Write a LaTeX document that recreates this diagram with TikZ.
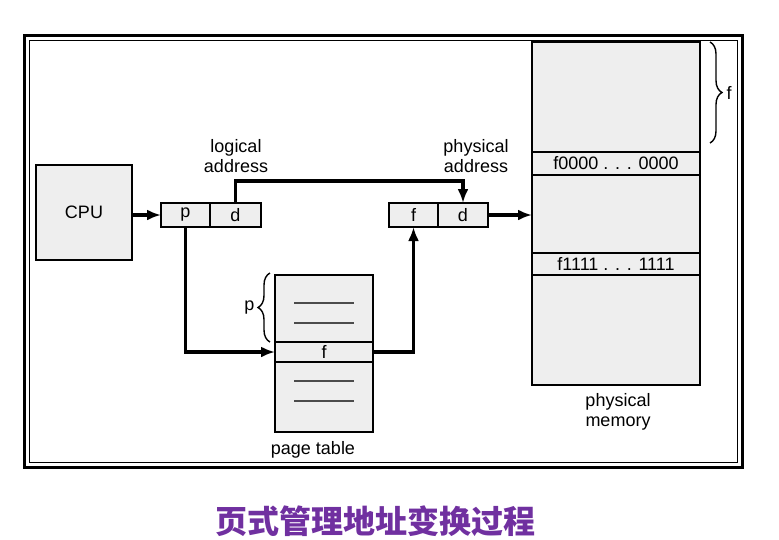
\documentclass[tikz,border=0pt]{standalone}
\usepackage{fontspec}
\setmainfont{Liberation Sans}
\newfontfamily\cjk{Noto Sans CJK SC}
\usetikzlibrary{arrows.meta, positioning, calc, decorations.pathreplacing}
\definecolor{boxgray}{RGB}{238, 238, 238}
\definecolor{titlepurple}{RGB}{112, 48, 160}
\tikzset{
  cell/.style={draw, line width=1.5pt, fill=boxgray, inner sep=0pt, outer sep=0pt, font=\fontsize{18}{20}\selectfont},
  label/.style={align=center, inner sep=0pt, font=\fontsize{18}{20}\selectfont},
  flow/.style={line width=3.2pt, -{Latex[length=14pt, width=11pt]}},
  entry/.style={line width=1.6pt, black!70},
  bracket/.style={line width=1.4pt, decorate, decoration={brace, amplitude=12pt}}
}

\begin{document}
\begin{tikzpicture}[x=1pt, y=-1pt]
  \useasboundingbox (0,0) rectangle (779,539);
  \draw[line width=3pt] (24,35) rectangle (742,467);
  \draw[line width=1pt] (29,40) rectangle (737,462);

  \node[cell, minimum width=96pt, minimum height=95pt] (cpu) at (84,212.5) {CPU};

  \node[cell, minimum width=49pt, minimum height=24pt] (lp) at (185.5,215) {p};
  \node[cell, minimum width=51pt, minimum height=24pt, right=0pt of lp] (ld) {d};
  \node[label] (logaddr) at (236,156) {logical\\address};

  \node[cell, minimum width=49pt, minimum height=24pt] (pf) at (413.5,215) {f};
  \node[cell, minimum width=50pt, minimum height=24pt, right=0pt of pf] (pd) {d};
  \node[label] (physaddr) at (476,156) {physical\\address};

  \node[cell, minimum width=168pt, minimum height=110pt] (memtop) at (616,97) {};
  \node[cell, minimum width=168pt, minimum height=23pt, below=0pt of memtop] (frame0) {f0000 . . . 0000};
  \node[cell, minimum width=168pt, minimum height=78pt, below=0pt of frame0] (memmid) {};
  \node[cell, minimum width=168pt, minimum height=22pt, below=0pt of memmid] (frame1) {f1111 . . . 1111};
  \node[cell, minimum width=168pt, minimum height=110pt, below=0pt of frame1] (membot) {};
  \node[label] (memlabel) at (618,412) {physical\\memory};

  \node[cell, minimum width=98pt, minimum height=67pt] (pttop) at (324,308.5) {};
  \node[cell, minimum width=98pt, minimum height=20pt, below=0pt of pttop] (ptf) {f};
  \node[cell, minimum width=98pt, minimum height=70pt, below=0pt of ptf] (ptbot) {};
  \node[label] (ptlabel) at (313,450) {page table};

  \draw[entry] ($(pttop.center)+(-30,-5.5)$) -- ++(60,0);
  \draw[entry] ($(pttop.center)+(-30,14.5)$) -- ++(60,0);
  \draw[entry] ($(ptbot.center)+(-30,-16)$) -- ++(60,0);
  \draw[entry] ($(ptbot.center)+(-30,4)$) -- ++(60,0);

  \draw[bracket] ($(pttop.south west)+(-5,0)$) -- ($(pttop.north west)+(-5,-2)$)
    node[label, midway, left=15pt] (pbrace) {p};
  \draw[bracket] ($(memtop.north east)+(10,0)$) -- ($(memtop.east)+(10,46)$)
    node[label, midway, right=16pt] (fbrace) {f};

  \draw[flow] (cpu.east |- lp.west) -- (lp.west);
  \draw[flow] (ld.north) -- ++(0,-22) -| (pd.north);
  \draw[flow] (pd.east) -- (pd.east -| memmid.west);
  \draw[flow] (lp.south) |- (ptf.west);
  \draw[flow] (ptf.east) -| (pf.south);

  \node[font=\cjk\bfseries\fontsize{32}{34}\selectfont, text=titlepurple] (title) at (375,521) {页式管理地址变换过程};
\end{tikzpicture}
\end{document}
